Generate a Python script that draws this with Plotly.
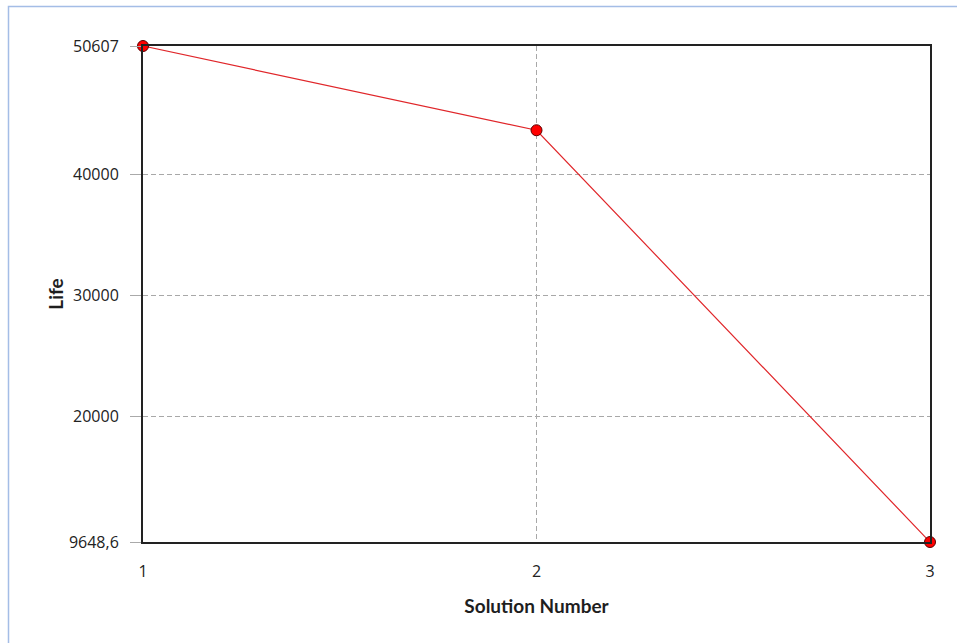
import plotly.graph_objects as go

solution = [1, 2, 3]
life = [50607, 43650, 9648.6]
y_tickvals = [9648.6, 20000, 30000, 40000, 50607]
y_ticktext = ["9648,6", "20000", "30000", "40000", "50607"]
x_tickvals = [1, 2, 3]
x_ticktext = ["1", "2", "3"]

# body margin removed via post_script; plot area target: x 143..930, y 46..542
W, H = 957, 643
L, T = 143, 46
R = W - 930
B = H - 542
PW = 930 - 143
PH = 542 - 46

title_font = dict(family="Lato, Open Sans, sans-serif", size=19, color="#1e1e1e")

fig = go.Figure()
fig.add_trace(go.Scatter(
    x=solution, y=life, mode="lines+markers",
    line=dict(color="#e0262a", width=1.2),
    marker=dict(color="#ff0000", size=11, line=dict(color="#5a0000", width=1)),
    cliponaxis=False, showlegend=False,
))

fig.update_layout(
    width=W, height=H,
    margin=dict(l=L, r=R, t=T, b=B),
    paper_bgcolor="white", plot_bgcolor="white",
    font=dict(family="Open Sans, DejaVu Sans, sans-serif", size=16, color="#222222"),
    xaxis=dict(
        range=[1, 3], tickvals=x_tickvals, ticktext=x_ticktext,
        showline=True, linecolor="#222222", linewidth=2, mirror=True,
        showgrid=True, gridcolor="#a8a8a8", griddash="5px,3px", gridwidth=1,
        ticks="", ticklabelstandoff=14, zeroline=False,
        title=dict(text="<b>Solution Number</b>", font=title_font, standoff=18),
    ),
    yaxis=dict(
        range=[9648.6, 50607], tickvals=y_tickvals, ticktext=y_ticktext,
        showline=True, linecolor="#222222", linewidth=2, mirror=True,
        showgrid=True, gridcolor="#a8a8a8", griddash="5px,3px", gridwidth=1,
        ticks="outside", ticklen=11, tickcolor="#aaaaaa", tickwidth=1,
        ticklabelstandoff=8, zeroline=False,
        title=dict(text="<b>Life</b>", font=title_font, standoff=0),
    ),
    shapes=[dict(
        type="rect", xref="paper", yref="paper",
        x0=(8.5 - L) / PW, x1=(975 - L) / PW,
        y0=(542 - 670) / PH, y1=(542 - 6.5) / PH,
        line=dict(color="#a4bde6", width=1.5), fillcolor="rgba(0,0,0,0)", layer="below",
    )],
)

fig.write_html("out.html", config={"displayModeBar": False},
               post_script="document.body.style.margin='0';")
